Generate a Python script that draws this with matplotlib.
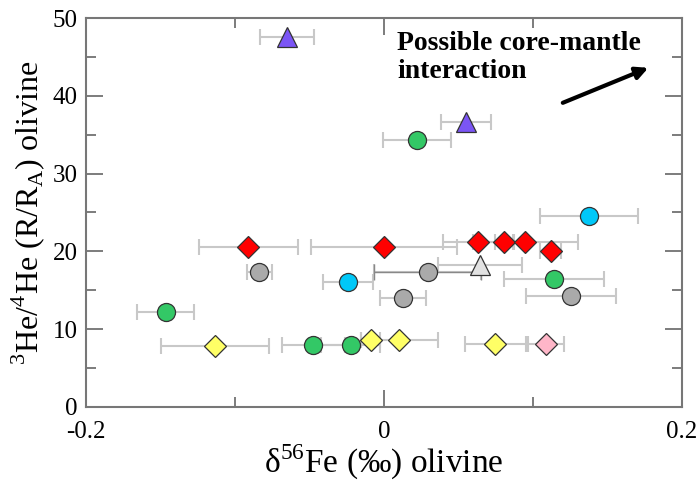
import matplotlib
matplotlib.use("Agg")
import matplotlib.pyplot as plt
from matplotlib.ticker import MultipleLocator

plt.rcParams['font.family'] = ['Liberation Serif', 'DejaVu Serif']
plt.rcParams['mathtext.fontset'] = 'custom'
plt.rcParams['mathtext.rm'] = 'Liberation Serif'

# delta56Fe (per mil), 3He/4He (R/Ra) and 2 s.d. on delta56Fe for each olivine group
purple_x = [-0.065, 0.055]
purple_y = [47.6, 36.6]
purple_err = [0.018, 0.017]

green_x = [0.022, -0.1465, 0.114, -0.0474, -0.0224]
green_y = [34.3, 12.2, 16.5, 8.0, 8.0]
green_err = [0.023, 0.019, 0.0336, 0.021, 0.020]

cyan_x = [0.1376, -0.024]
cyan_y = [24.6, 16.1]
cyan_err = [0.0327, 0.0168]

red_x = [-0.091, 0.0, 0.063, 0.0808, 0.0949, 0.112]
red_y = [20.6, 20.6, 21.2, 21.2, 21.2, 20.0]
red_err = [0.033, 0.0487, 0.0235, 0.0063, 0.035, 0.007]

grey_x = [-0.0837, 0.0293, 0.0125, 0.1255]
grey_y = [17.3, 17.3, 14.0, 14.3]
grey_err = [0.0085, 0.036, 0.0155, 0.0305]

tri_x = [0.0644]
tri_y = [18.2]
tri_err = [0.028]

yellow_x = [-0.1134, -0.0089, 0.0103, 0.0747]
yellow_y = [7.9, 8.6, 8.6, 8.1]
yellow_err = [0.036, 0.0065, 0.026, 0.0205]

pink_x = [0.1085]
pink_y = [8.1]
pink_err = [0.012]

fig = plt.figure(figsize=(6.97, 4.83), dpi=100)
ax = fig.add_axes([0.1234, 0.1574, 0.8551, 0.8053])

groups = [
    (purple_x, purple_y, purple_err, '^', '#7b55f5', 15),
    (green_x, green_y, green_err, 'o', '#33c866', 13),
    (cyan_x, cyan_y, cyan_err, 'o', '#00c8f8', 13),
    (red_x, red_y, red_err, 'D', '#ff0000', 10.7),
    (grey_x, grey_y, grey_err, 'o', '#aaaaaa', 13),
    (tri_x, tri_y, tri_err, '^', '#e2e2e2', 15),
    (yellow_x, yellow_y, yellow_err, 'D', '#ffff66', 10.7),
    (pink_x, pink_y, pink_err, 'D', '#ffb6c8', 10.7),
]

# error bars first so every symbol sits on top
for x, y, err, m, c, s in groups:
    ax.errorbar(x, y, xerr=err, fmt='none', ecolor='#c8c8c8', elinewidth=1.5,
                capsize=6, capthick=1.5, zorder=2)
# this one is drawn with a darker, thinner line
ax.errorbar(grey_x[1], grey_y[1], xerr=grey_err[1], fmt='none', ecolor='#888888',
            elinewidth=1.0, capsize=6, capthick=1.0, zorder=2.5)

for x, y, err, m, c, s in groups:
    ax.plot(x, y, ls='none', marker=m, markersize=s, markerfacecolor=c,
            markeredgecolor='#333333', markeredgewidth=0.9, zorder=3)

ax.set_xlim(-0.2, 0.2)
ax.set_ylim(0, 50)
ax.xaxis.set_major_locator(MultipleLocator(0.2))
ax.xaxis.set_minor_locator(MultipleLocator(0.1))
ax.yaxis.set_major_locator(MultipleLocator(10))
ax.yaxis.set_minor_locator(MultipleLocator(5))
ax.set_xticks([-0.2, 0, 0.2])
ax.set_xticklabels(['-0.2', '0', '0.2'])

ax.tick_params(which='both', direction='in', top=True, right=True,
               color='#666666', labelsize=18)
ax.tick_params(axis='y', pad=6)
ax.tick_params(axis='x', pad=10)
ax.tick_params(which='major', length=12, width=1.2)
ax.tick_params(which='minor', length=7, width=1.2)
for sp in ax.spines.values():
    sp.set_color('#777777')
    sp.set_linewidth(1.5)

ax.set_xlabel(r'δ$^{\mathregular{56}}$Fe (‰) olivine', fontsize=24, labelpad=0)
ax.set_ylabel(r'$^{\mathregular{3}}$He/$^{\mathregular{4}}$He (R/R$_{\mathregular{A}}$) olivine',
              fontsize=23, labelpad=4)

ax.text(0.009, 48.3, 'Possible core-mantle\ninteraction', fontsize=20,
        fontweight='bold', va='top', ha='left', linespacing=1.12)
ax.annotate('', xy=(0.1774, 43.6), xytext=(0.120, 39.1),
            arrowprops=dict(arrowstyle='-|>', color='black', lw=3,
                            mutation_scale=18, shrinkA=0, shrinkB=0))

fig.savefig('out.png', dpi=100)
